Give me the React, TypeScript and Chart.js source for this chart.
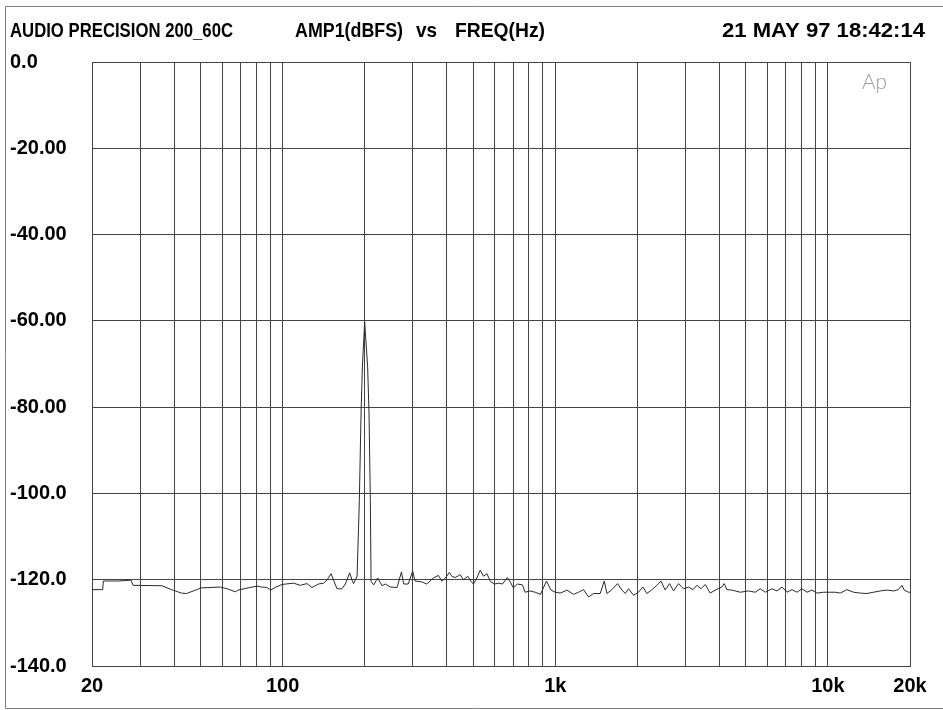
import React, { useEffect, useRef } from "react";
import { Chart, registerables } from "chart.js";

Chart.register(...registerables);

// ---- data ----
const FREQ_HZ = [
  20, 21.9, 22.0, 25.0, 27.8, 28.3, 36.1, 39.1, 42.6, 44.4, 48.5, 50, 59.1, 62.6, 67.1, 68.8, 76.0, 80.5, 83.9, 87.5,
  90.5, 94.0, 99.5, 109.7, 116.1, 122.9, 128.2, 135.5, 141.4, 145.5, 150.5, 153.8, 158.3, 165.1, 169.9, 176.2, 179.8,
  182.2, 187.6, 191.2, 194.0, 196.2, 200, 205.1, 207.5, 209.8, 211.1, 215.8, 223.2, 231.6, 238.2, 248.5, 263.0, 272.8,
  278.1, 289.0, 300, 305.9, 323.8, 337.9, 357.2, 372.8, 383.6, 394.3, 409, 417.4, 429, 441.2, 447.7, 460.8, 477.3,
  491.6, 501, 516, 530.5, 545.5, 561.5, 578.4, 598.5, 620.6, 640, 667.7, 683.8, 702.4, 726.6, 758.1, 775.2, 808.8,
  843.7, 882.6, 928.6, 964.3, 1000, 1043, 1104, 1167, 1217, 1270, 1325, 1382, 1462, 1513, 1547, 1613, 1692, 1756, 1806,
  1857, 1936, 2020, 2097, 2169, 2262, 2360, 2440, 2531, 2625, 2715, 2832, 2955, 3082, 3199, 3308, 3424, 3550, 3699,
  3893, 4085, 4165, 4262, 4443, 4769, 5115, 5414, 5643, 5890, 6232, 6501, 6784, 7077, 7382, 7702, 8034, 8380, 8737,
  9114, 9635, 10196, 10636, 11094, 11740, 12415, 13140, 13900, 14700, 15550, 16460, 17400, 18140, 18680, 19040, 19750,
  20000,
];
const AMP_DBFS = [
  -122.3, -122.3, -120.3, -120.3, -120.1, -121.3, -121.4, -122.3, -123.1, -123.2, -122.3, -121.9, -121.7, -122.1,
  -122.8, -122.4, -121.8, -121.5, -121.7, -121.8, -122.4, -121.8, -121.1, -120.8, -121.3, -120.9, -121.8, -121.0,
  -120.8, -120.1, -118.6, -120.1, -122.1, -122.1, -121.0, -118.4, -120.1, -120.9, -119.2, -101.6, -81.4, -70.7, -60.2,
  -70.7, -81.4, -101.6, -120.4, -121.2, -119.6, -121.4, -121.0, -121.7, -121.8, -118.2, -121.0, -121.0, -118.0,
  -120.3, -120.5, -121.0, -119.6, -119.0, -120.3, -119.7, -118.3, -119.2, -119.5, -119.1, -118.8, -120.0, -119.2,
  -120.4, -121.0, -119.6, -117.8, -119.2, -118.6, -120.4, -121.0, -120.8, -121.0, -119.5, -120.5, -121.9, -121.0,
  -121.2, -122.9, -122.6, -122.9, -123.4, -120.3, -122.4, -122.9, -123.1, -122.4, -123.4, -122.9, -122.3, -124.0,
  -123.2, -123.2, -120.3, -123.2, -122.3, -120.9, -122.4, -123.2, -122.1, -123.6, -122.9, -121.7, -123.2, -122.3,
  -121.3, -120.3, -122.4, -120.9, -122.6, -120.9, -122.1, -121.7, -122.3, -121.3, -122.1, -121.1, -123.1, -122.3,
  -121.7, -120.9, -122.3, -122.4, -122.9, -122.6, -122.9, -122.1, -122.9, -122.1, -122.6, -121.7, -122.9, -122.3,
  -122.9, -122.1, -122.9, -122.4, -123.1, -122.9, -122.9, -122.9, -123.1, -122.3, -122.9, -123.1, -123.2, -122.9,
  -122.6, -122.4, -122.6, -122.3, -121.3, -122.4, -122.9, -122.9,
];

const X_GRID_HZ = [
  20, 30, 40, 50, 60, 70, 80, 90, 100, 200, 300, 400, 500, 600, 700, 800, 900, 1000, 2000, 3000, 4000, 5000, 6000,
  7000, 8000, 9000, 10000, 20000,
];
const X_LABEL_VALUES = [20, 100, 1000, 10000, 20000];
const X_LABEL_TEXT = ["20", "100", "1k", "10k", "20k"];
const Y_TICK_VALUES = [0, -20, -40, -60, -80, -100, -120, -140];
const Y_TICK_LABELS = ["0.0", "-20.00", "-40.00", "-60.00", "-80.00", "-100.0", "-120.0", "-140.0"];

const HEADER_SEGMENTS = ["AUDIO PRECISION 200_60C", "AMP1(dBFS)", "vs", "FREQ(Hz)"];
const HEADER_DATE = "21 MAY 97 18:42:14";
const LOGO_TEXT = "Ap";

const FONT_FAMILY = "'Liberation Sans', Arial, sans-serif";

const framePlugin = {
  id: "apFrame",
  beforeDraw(chart: any) {
    const ctx = chart.ctx;
    ctx.save();
    ctx.fillStyle = "#ffffff";
    ctx.fillRect(0, 0, chart.width, chart.height);
    ctx.restore();
  },
  afterDraw(chart: any) {
    const ctx = chart.ctx;
    ctx.save();
    // outer frame
    ctx.strokeStyle = "#808080";
    ctx.lineWidth = 1;
    ctx.beginPath();
    ctx.moveTo(5.5, 708.5);
    ctx.lineTo(5.5, 6.5);
    ctx.lineTo(chart.width, 6.5);
    ctx.moveTo(5.5, 708.5);
    ctx.lineTo(chart.width, 708.5);
    ctx.stroke();

    // header
    ctx.fillStyle = "#000";
    ctx.font = `bold 21px ${FONT_FAMILY}`;
    ctx.textBaseline = "middle";
    ctx.textAlign = "left";
    const xs = [10, 295, 416, 455];
    const ws = [223, 108, 21, 90];
    HEADER_SEGMENTS.forEach((t, i) => ctx.fillText(t, xs[i], 31, ws[i]));
    ctx.textAlign = "right";
    const natural = ctx.measureText(HEADER_DATE).width;
    ctx.save();
    ctx.translate(925, 31);
    ctx.scale(203 / natural, 1);
    ctx.fillText(HEADER_DATE, 0, 0);
    ctx.restore();

    // logo
    ctx.fillStyle = "#9a9a9a";
    ctx.font = "300 22px Lato, 'DejaVu Sans', sans-serif";
    ctx.textAlign = "left";
    ctx.fillText(LOGO_TEXT, 862, 82, 25);
    ctx.restore();
  },
};

export default function App() {
  const ref = useRef<HTMLCanvasElement | null>(null);
  useEffect(() => {
    if (!ref.current) return;
    const points = FREQ_HZ.map((f, i) => ({ x: f, y: AMP_DBFS[i] }));
    const tickFont = { family: FONT_FAMILY, weight: "bold" as const, size: 20 };
    const chart = new Chart(ref.current, {
      type: "line",
      data: {
        datasets: [
          {
            data: points,
            borderColor: "#2a2a2a",
            borderWidth: 1,
            pointRadius: 0,
            tension: 0,
            fill: false,
          },
        ],
      },
      options: {
        animation: false,
        responsive: false,
        maintainAspectRatio: false,
        layout: { padding: { left: 10, top: 62, right: 33, bottom: 0 } },
        plugins: { legend: { display: false }, tooltip: { enabled: false }, title: { display: false } },
        scales: {
          x: {
            type: "logarithmic",
            position: "bottom",
            min: 20,
            max: 20000,
            afterBuildTicks: (s: any) => {
              s.ticks = X_GRID_HZ.map((v) => ({ value: v }));
            },
            afterFit: (s: any) => {
              s.height = 44;
            },
            ticks: {
              autoSkip: false,
              maxRotation: 0,
              minRotation: 0,
              padding: 8,
              color: "#000",
              font: tickFont,
              callback: (v: any) => {
                const i = X_LABEL_VALUES.indexOf(Number(v));
                return i >= 0 ? X_LABEL_TEXT[i] : "";
              },
            },
            grid: { color: "#444", lineWidth: 1, drawTicks: false },
            border: { display: true, color: "#444", width: 1 },
          },
          y: {
            type: "linear",
            position: "left",
            min: -140,
            max: 0,
            afterBuildTicks: (s: any) => {
              s.ticks = Y_TICK_VALUES.map((v) => ({ value: v }));
            },
            afterFit: (s: any) => {
              s.width = 82;
            },
            ticks: {
              crossAlign: "far",
              padding: 0,
              color: "#000",
              font: tickFont,
              callback: (v: any) => {
                const i = Y_TICK_VALUES.indexOf(Number(v));
                return i >= 0 ? Y_TICK_LABELS[i] : "";
              },
            },
            grid: { color: "#444", lineWidth: 1, drawTicks: false },
            border: { display: true, color: "#444", width: 1 },
          },
        },
      },
      plugins: [framePlugin],
    } as any);
    return () => chart.destroy();
  }, []);
  return (
    <div style={{ position: "absolute", left: 0, top: 0, width: 943, height: 710, background: "#fff" }}>
      <canvas ref={ref} width={943} height={710} style={{ display: "block", width: 943, height: 710 }} />
    </div>
  );
}
